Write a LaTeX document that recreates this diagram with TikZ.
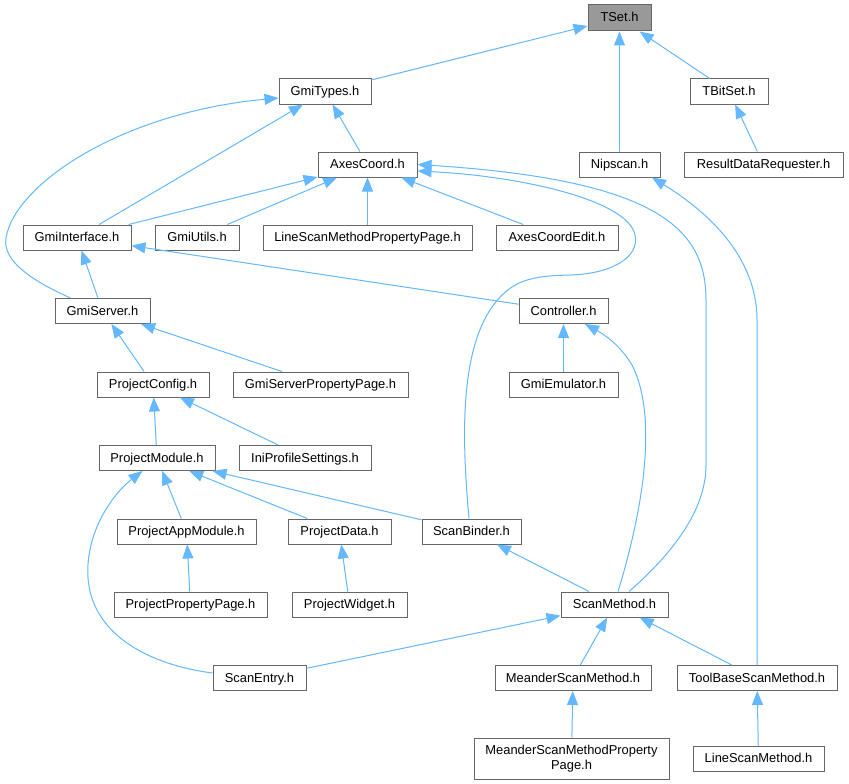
\documentclass[tikz,border=0pt]{standalone}
\usepackage{fontspec}
\setmainfont{Liberation Sans}
\usetikzlibrary{arrows.meta}
\definecolor{edgeblue}{HTML}{63B8FF}
\definecolor{boxgray}{HTML}{666666}
\definecolor{fillgray}{HTML}{999999}
\begin{document}
\begin{tikzpicture}[x=1pt,y=-1pt,
  box/.style={draw=boxgray, line width=1pt, fill=white, minimum height=25pt, inner sep=0pt, text height=9.5pt, text depth=1.5pt, font=\fontsize{12.9}{15}\selectfont},
  edge/.style={draw=edgeblue, line width=1pt, -{Triangle[length=14pt,width=11pt]}}
]
\useasboundingbox[fill=white] (0,0) rectangle (849,784);

\node[box, minimum width=63pt, minimum height=26pt, fill=fillgray] (tset) at (619.5,18) {TSet.h};
\node[box, minimum width=92pt] (gmitypes) at (325,91.5) {GmiTypes.h};
\node[box, minimum width=78pt] (tbitset) at (729,91.5) {TBitSet.h};
\node[box, minimum width=99pt] (axescoord) at (367.5,164.5) {AxesCoord.h};
\node[box, minimum width=81pt] (nipscan) at (619.5,164.5) {Nipscan.h};
\node[box, minimum width=159pt] (rdr) at (763.5,164.5) {ResultDataRequester.h};
\node[box, minimum width=108pt] (gmiinterface) at (77,237.5) {GmiInterface.h};
\node[box, minimum width=84pt] (gmiutils) at (197,237.5) {GmiUtils.h};
\node[box, minimum width=209pt] (lsmpp) at (367.5,237.5) {LineScanMethodPropertyPage.h};
\node[box, minimum width=122pt] (axescoordedit) at (557,237.5) {AxesCoordEdit.h};
\node[box, minimum width=95pt] (gmiserver) at (102.5,311) {GmiServer.h};
\node[box, minimum width=89pt] (controller) at (563.5,311) {Controller.h};
\node[box, minimum width=112pt] (projectconfig) at (153,384.5) {ProjectConfig.h};
\node[box, minimum width=175pt] (gspp) at (320.5,384.5) {GmiServerPropertyPage.h};
\node[box, minimum width=109pt] (gmiemulator) at (563.5,384.5) {GmiEmulator.h};
\node[box, minimum width=116pt] (projectmodule) at (157,458) {ProjectModule.h};
\node[box, minimum width=132pt] (ips) at (305,458) {IniProfileSettings.h};
\node[box, minimum width=139pt] (pam) at (186.5,531.5) {ProjectAppModule.h};
\node[box, minimum width=103pt] (projectdata) at (339.5,531.5) {ProjectData.h};
\node[box, minimum width=99pt] (scanbinder) at (471.5,531.5) {ScanBinder.h};
\node[box, minimum width=153pt] (ppp) at (190.5,604.5) {ProjectPropertyPage.h};
\node[box, minimum width=115pt] (projectwidget) at (349.5,604.5) {ProjectWidget.h};
\node[box, minimum width=107pt] (scanmethod) at (614.5,604.5) {ScanMethod.h};
\node[box, minimum width=93pt] (scanentry) at (259.5,678) {ScanEntry.h};
\node[box, minimum width=156pt] (msm) at (573,678) {MeanderScanMethod.h};
\node[box, minimum width=160pt] (tbsm) at (757,678) {ToolBaseScanMethod.h};
\node[box, minimum width=195pt, minimum height=41pt, align=center, text height=, text depth=] (msmpp) at (571.5,758.5) {MeanderScanMethodProperty\\Page.h};
\node[box, minimum width=131pt] (lsm) at (758.5,758.5) {LineScanMethod.h};

% straight edges
\draw[edge] (gmitypes) -- (tset);
\draw[edge] (nipscan) -- (tset);
\draw[edge] (tbitset) -- (tset);
\draw[edge] (axescoord) -- (gmitypes);
\draw[edge] (gmiinterface) -- (gmitypes);
\draw[edge] (rdr) -- (tbitset);
\draw[edge] (gmiinterface) -- (axescoord);
\draw[edge] (gmiutils) -- (axescoord);
\draw[edge] (lsmpp) -- (axescoord);
\draw[edge] (axescoordedit) -- (axescoord);
\draw[edge] (gmiserver) -- (gmiinterface);
\draw[edge] (controller) -- (gmiinterface);
\draw[edge] (projectconfig) -- (gmiserver);
\draw[edge] (gspp) -- (gmiserver);
\draw[edge] (gmiemulator) -- (controller);
\draw[edge] (projectmodule) -- (projectconfig);
\draw[edge] (ips) -- (projectconfig);
\draw[edge] (pam) -- (projectmodule);
\draw[edge] (projectdata) -- (projectmodule);
\draw[edge] (scanbinder) -- (projectmodule);
\draw[edge] (ppp) -- (pam);
\draw[edge] (projectwidget) -- (projectdata);
\draw[edge] (scanmethod) -- (scanbinder);
\draw[edge] (scanentry) -- (scanmethod);
\draw[edge] (msm) -- (scanmethod);
\draw[edge] (tbsm) -- (scanmethod);
\draw[edge] (msmpp) -- (msm);
\draw[edge] (lsm) -- (tbsm);

% curved edges
\draw[edge] ([xshift=16pt]gmiserver.north west) .. controls (35,282) and (2,262) .. (6,238)
  .. controls (14,186) and (118,113) .. ([yshift=-6.5pt]gmitypes.west);
\draw[edge] ([yshift=5pt]scanentry.west) .. controls (150,665) and (92,635) .. (88,578)
  .. controls (85,530) and (115,492) .. ([xshift=44pt]projectmodule.south west);
\draw[edge] ([xshift=-2.5pt]scanbinder.north) .. controls (463,450) and (458,360) .. (490,310)
  .. controls (510,280) and (530,276) .. (570,275)
  .. controls (610,274) and (640,258) .. (635,235)
  .. controls (628,200) and (520,176) .. ([yshift=-6.5pt]axescoord.east);
\draw[edge] ([xshift=14.5pt]scanmethod.north) .. controls (665,560) and (706,515) .. (706,465)
  -- (706,300) .. controls (706,230) and (660,180) .. (axescoord.east);
\draw[edge] (tbsm.north) -- (757,320) .. controls (757,255) and (705,210) .. ([xshift=32.5pt]nipscan.south);
\draw[edge] ([xshift=3.5pt]scanmethod.north) .. controls (640,520) and (660,420) .. (632,365)
  .. controls (620,345) and (605,335) .. ([xshift=21.5pt]controller.south);
\end{tikzpicture}
\end{document}
